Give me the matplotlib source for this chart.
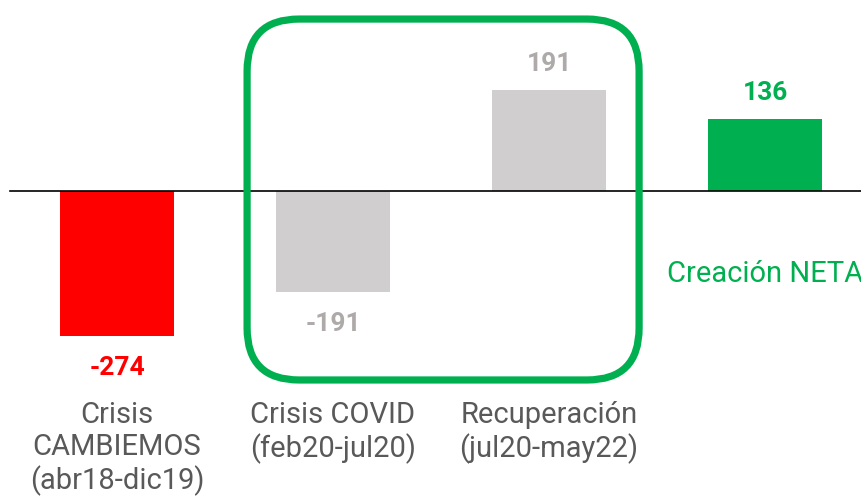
import matplotlib.pyplot as plt
from matplotlib.patches import FancyBboxPatch

plt.rcParams['font.family'] = ['Roboto', 'DejaVu Sans']

categories = ["Crisis\nCAMBIEMOS\n(abr18-dic19)", "Crisis COVID\n(feb20-jul20)",
              "Recuperación\n(jul20-may22)", ""]
values = [-274, -191, 191, 136]
bar_colors = ["#FF0000", "#D0CECE", "#D0CECE", "#00B050"]
label_colors = ["#FF0000", "#AEAAAA", "#AEAAAA", "#00B050"]
green = "#00B050"

fig = plt.figure(figsize=(8.62, 4.98), dpi=100)
ax = fig.add_axes([0, 0, 1, 1])
ax.set_xlim(-0.542, 3.449)
ax.set_ylim(-580, 361)
ax.axis("off")

x = list(range(len(values)))
ax.bar(x, values, width=0.53, color=bar_colors, zorder=2)

# zero line
ax.plot([-0.495, 3.449], [0, 0], color="black", lw=1.2, zorder=3)

# value labels
for xi, v, c in zip(x, values, label_colors):
    off = 26 if v > 0 else -32
    ax.annotate(str(v), (xi, v), xytext=(0, off), textcoords="offset pixels",
                ha="center", va="center", fontsize=19, fontweight="bold", color=c)

# category labels
for xi, lab in zip(x, categories):
    ax.text(xi, -396, lab, ha="center", va="top", fontsize=21,
            color="#595959", linespacing=1.18)

ax.text(3, -156, "Creación NETA", ha="center", va="center", fontsize=21, color=green)

# rounded box around the COVID period
fig.canvas.draw()
x0, y0 = ax.transData.transform((0.602, -357))
x1, y1 = ax.transData.transform((2.417, 325))
box = FancyBboxPatch((x0, y0), x1 - x0, y1 - y0,
                     boxstyle="round,pad=0,rounding_size=52",
                     fill=False, edgecolor=green, lw=5.2, transform=None, zorder=4)
fig.patches.append(box)

fig.savefig("out.png", dpi=100)
